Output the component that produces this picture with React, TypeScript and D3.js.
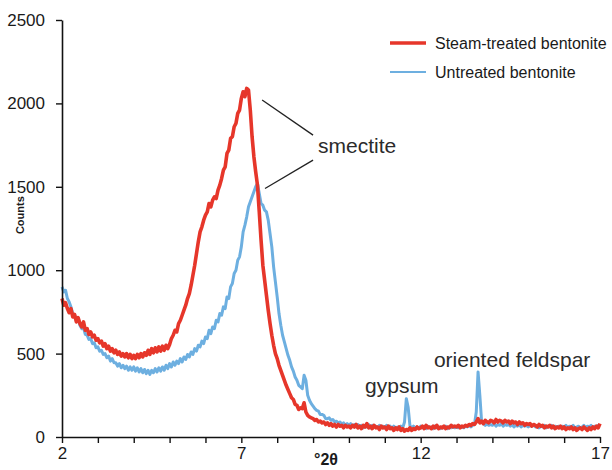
import { useEffect, useRef } from 'react';
import * as d3 from 'd3';

// XRD patterns, sampled every 0.05 °2θ from 2 to 17
const THETA_START = 2;
const THETA_STEP = 0.05;

// Steam-treated bentonite (counts), one row per degree
const steamCounts = [
  830, 790, 805, 770, 745, 770, 720, 735, 690, 715, 680, 660, 690, 640, 650, 615, 630, 600, 610, 580,
  590, 565, 575, 545, 560, 530, 545, 515, 530, 505, 520, 495, 510, 485, 500, 480, 500, 475, 495, 470,
  490, 470, 495, 475, 500, 480, 505, 490, 520, 495, 530, 505, 535, 510, 540, 515, 545, 520, 550, 530,
  555, 590, 610, 640, 630, 680, 700, 730, 760, 790, 830, 860, 910, 970, 1030, 1100, 1170, 1230, 1260, 1300,
  1330, 1350, 1400, 1380, 1420, 1440, 1430, 1480, 1510, 1550, 1600, 1620, 1700, 1720, 1790, 1800, 1860, 1880, 1940, 1960,
  2030, 2070, 2040, 2090, 2080, 1960, 1800, 1680, 1590, 1510, 1350, 1180, 1030, 940, 850, 760, 680, 610, 550, 500,
  470, 430, 400, 370, 340, 310, 285, 260, 235, 225, 195, 190, 165, 175, 170, 205, 150, 130, 120, 115,
  110, 100, 105, 90, 95, 85, 90, 75, 85, 70, 80, 65, 75, 60, 75, 65, 70, 55, 70, 60,
  65, 55, 70, 60, 75, 55, 65, 50, 70, 60, 80, 55, 65, 50, 70, 55, 60, 45, 65, 55,
  60, 45, 65, 50, 55, 40, 55, 45, 60, 40, 50, 35, 45, 40, 55, 40, 50, 45, 60, 50,
  55, 65, 50, 70, 55, 60, 50, 65, 55, 70, 50, 60, 55, 65, 50, 60, 55, 70, 60, 65,
  60, 70, 55, 65, 60, 70, 65, 75, 70, 80, 75, 90, 110, 85, 95, 80, 100, 90, 85, 100,
  95, 85, 105, 90, 100, 95, 85, 100, 90, 95, 80, 95, 85, 90, 75, 90, 80, 85, 70, 80,
  75, 80, 65, 75, 70, 60, 75, 65, 70, 55, 65, 60, 70, 55, 65, 50, 60, 55, 65, 50,
  60, 45, 55, 50, 60, 45, 55, 40, 50, 55, 45, 60, 50, 40, 55, 45, 60, 50, 65, 55,
  80,
];

// Untreated bentonite (counts)
const untreatedCounts = [
  900, 870, 880, 830, 810, 780, 740, 735, 700, 710, 670, 650, 655, 615, 610, 585, 590, 560, 565, 535,
  540, 515, 520, 495, 500, 475, 485, 455, 470, 445, 445, 425, 440, 415, 430, 410, 425, 400, 420, 400,
  420, 395, 415, 390, 410, 385, 405, 380, 400, 375, 400, 385, 410, 390, 415, 395, 420, 400, 430, 410,
  440, 420, 450, 430, 455, 440, 470, 450, 480, 465, 495, 480, 510, 495, 530, 515, 550, 540, 575, 560,
  600, 590, 640, 620, 660, 650, 700, 690, 740, 730, 780, 770, 840, 830, 900, 920, 980, 1000, 1060, 1080,
  1140, 1230, 1270, 1320, 1380, 1410, 1440, 1470, 1500, 1520, 1460, 1400, 1390, 1360, 1350, 1300, 1220, 1140, 1020, 930,
  840, 740, 670, 610, 570, 530, 490, 460, 420, 395, 360, 340, 310, 300, 290, 370, 340, 250, 220, 200,
  185, 170, 160, 155, 135, 135, 130, 110, 110, 115, 100, 105, 90, 95, 85, 90, 75, 85, 70, 80,
  70, 80, 65, 75, 60, 75, 65, 70, 55, 70, 60, 75, 55, 70, 60, 65, 55, 70, 60, 65,
  55, 70, 55, 65, 50, 65, 55, 60, 50, 65, 55, 90, 230, 180, 70, 50, 65, 55, 60, 50,
  65, 55, 60, 50, 65, 55, 60, 50, 65, 55, 60, 50, 60, 55, 65, 50, 60, 55, 65, 55,
  60, 55, 65, 60, 55, 65, 60, 70, 60, 70, 75, 150, 390, 250, 90, 80, 70, 80, 70, 75,
  70, 80, 65, 75, 70, 80, 65, 75, 70, 75, 65, 75, 60, 70, 65, 75, 60, 70, 65, 70,
  60, 70, 65, 75, 60, 70, 55, 65, 60, 70, 55, 65, 60, 70, 55, 65, 60, 65, 55, 65,
  60, 70, 55, 65, 60, 70, 55, 60, 65, 55, 60, 70, 55, 65, 60, 70, 55, 65, 60, 70,
  65,
];

const yTicks = [0, 500, 1000, 1500, 2000, 2500];
const xTickLabels = [2, 7, 12, 17];
const xMinorTicks = d3.range(2, 18, 1);

const legendItems = [
  { label: 'Steam-treated bentonite', key: 'steam' },
  { label: 'Untreated bentonite', key: 'untreated' },
];

// annotation anchors in data space (°2θ, counts)
const smectiteLeaders = [
  [[7.58, 2020], [9.0, 1810]],
  [[9.0, 1660], [7.66, 1490]],
];
const peakLabels = [
  { text: 'smectite', theta: 9.14, counts: 1700 },
  { text: 'gypsum', theta: 10.45, counts: 264 },
  { text: 'oriented feldspar', theta: 12.37, counts: 420 },
];

const COLORS = {
  steam: '#E6362A',
  untreated: '#6DAFE0',
  axis: '#111',
  text: '#1a1a1a',
  note: '#2b2b2b',
};

const FONT = 'Liberation Sans, Arial, sans-serif';

export default function App() {
  const svgRef = useRef<SVGSVGElement>(null);
  const width = 612;
  const height = 470;

  useEffect(() => {
    if (!svgRef.current) return;
    const svg = d3.select(svgRef.current);
    svg.selectAll('*').remove();

    const x = d3.scaleLinear().domain([2, 17]).range([62, 600]);
    const y = d3.scaleLinear().domain([0, 2500]).range([437, 20]);

    const toPoints = (arr: number[]) =>
      arr.map((c, i) => [THETA_START + i * THETA_STEP, c] as [number, number]);

    const line = d3.line<[number, number]>()
      .x(d => x(d[0]))
      .y(d => y(d[1]));

    // untreated first, steam-treated on top
    svg.append('path')
      .datum(toPoints(untreatedCounts))
      .attr('d', line)
      .attr('fill', 'none')
      .attr('stroke', COLORS.untreated)
      .attr('stroke-width', 3)
      .attr('stroke-linejoin', 'round');

    svg.append('path')
      .datum(toPoints(steamCounts))
      .attr('d', line)
      .attr('fill', 'none')
      .attr('stroke', COLORS.steam)
      .attr('stroke-width', 3.6)
      .attr('stroke-linejoin', 'round');

    // Axes
    const yAxis = svg.append('g')
      .attr('transform', `translate(${x(2)},0)`)
      .call(d3.axisLeft(y).tickValues(yTicks).tickSize(6).tickPadding(11).tickSizeOuter(0)
        .tickFormat(d3.format('d')));
    yAxis.select('.domain').attr('stroke', COLORS.axis).attr('stroke-width', 1.6);
    yAxis.selectAll('line').attr('stroke', COLORS.axis).attr('stroke-width', 1.4);
    yAxis.selectAll('text')
      .style('font-family', FONT).style('font-size', '17px').style('fill', COLORS.text);

    const xAxis = svg.append('g')
      .attr('transform', `translate(0,${y(0)})`)
      .call(d3.axisBottom(x).tickValues(xMinorTicks).tickSize(6).tickSizeOuter(0)
        .tickFormat(d => (xTickLabels.includes(d as number) ? String(d) : '')));
    xAxis.select('.domain').attr('stroke', COLORS.axis).attr('stroke-width', 1.6);
    xAxis.selectAll('line').attr('stroke', COLORS.axis).attr('stroke-width', 1.4);
    xAxis.selectAll('text')
      .attr('y', 10)
      .style('font-family', FONT).style('font-size', '17px').style('fill', COLORS.text);

    svg.append('text')
      .attr('x', x(9.36)).attr('y', 465)
      .attr('text-anchor', 'middle')
      .style('font-family', FONT).style('font-size', '16px').style('font-weight', 'bold')
      .style('fill', COLORS.text)
      .text('°2θ');

    svg.append('text')
      .attr('transform', `translate(24,${y(1330)}) rotate(-90)`)
      .attr('text-anchor', 'middle')
      .style('font-family', FONT).style('font-size', '11px').style('font-weight', 'bold')
      .style('fill', COLORS.text)
      .text('Counts');

    // Legend
    const legend = svg.append('g').attr('transform', 'translate(390,43)');
    legendItems.forEach((item, i) => {
      const color = item.key === 'steam' ? COLORS.steam : COLORS.untreated;
      legend.append('line')
        .attr('x1', 0).attr('x2', 36)
        .attr('y1', i * 29).attr('y2', i * 29)
        .attr('stroke', color)
        .attr('stroke-width', item.key === 'steam' ? 3.5 : 2.2);
      legend.append('text')
        .attr('x', 45).attr('y', i * 29 + 5.5)
        .style('font-family', FONT).style('font-size', '16px')
        .style('fill', COLORS.text)
        .text(item.label);
    });

    // Annotations
    smectiteLeaders.forEach(seg => {
      svg.append('line')
        .attr('x1', x(seg[0][0])).attr('y1', y(seg[0][1]))
        .attr('x2', x(seg[1][0])).attr('y2', y(seg[1][1]))
        .attr('stroke', '#222')
        .attr('stroke-width', 1.3);
    });
    peakLabels.forEach(p => {
      svg.append('text')
        .attr('x', x(p.theta)).attr('y', y(p.counts))
        .style('font-family', FONT).style('font-size', '21px')
        .style('fill', COLORS.note)
        .text(p.text);
    });
  }, []);

  return (
    <svg ref={svgRef} width={width} height={height}
      style={{ position: 'absolute', left: 0, top: 0, background: '#fff' }} />
  );
}
